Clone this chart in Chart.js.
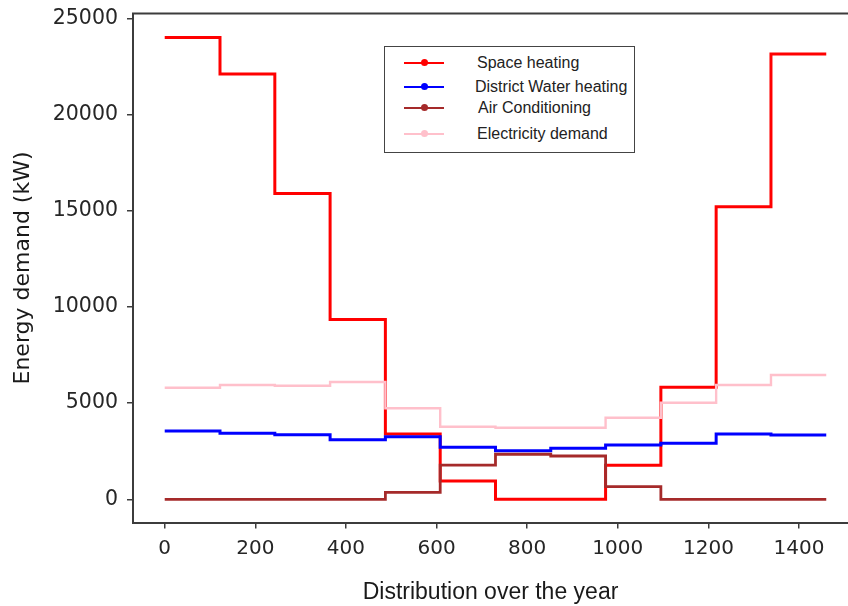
<!DOCTYPE html>
<html>
<head>
<meta charset="utf-8">
<script src="https://cdn.jsdelivr.net/npm/chart.js@4/dist/chart.umd.min.js"></script>
<style>
  body { margin: 0; background: #fff; }
  #wrap { position: relative; width: 848px; height: 606px; }
  #legend {
    position: absolute; left: 384px; top: 46px; width: 249px; height: 105px;
    border: 1.5px solid #444; background: #fff;
    font-family: 'Liberation Sans', Arial, sans-serif; font-size: 16px; color: #222;
  }
  .item { position: absolute; left: 0; height: 20px; }
  .swatch { position: absolute; left: 19px; top: 9px; width: 40px; height: 2px; }
  .dot { position: absolute; left: 16.5px; top: -3px; width: 7px; height: 7px; border-radius: 50%; }
  .label { position: absolute; top: 0; white-space: nowrap; line-height: 20px; }
</style>
</head>
<body>
<div id="wrap">
  <canvas id="demandChart" width="848" height="606"></canvas>
  <div id="legend"></div>
</div>
<script>
// Monthly step boundaries (hours) and demand per month (kW)
const stepHours = [0, 122, 243, 365, 487, 608, 730, 852, 973, 1095, 1217, 1338, 1460];
const spaceHeating = [24000, 22100, 15900, 9350, 3400, 950, 0, 0, 1770, 5820, 15200, 23150];
const districtWater = [3550, 3430, 3350, 3100, 3250, 2700, 2520, 2650, 2820, 2910, 3390, 3340];
const airConditioning = [0, 0, 0, 0, 360, 1780, 2340, 2250, 655, 0, 0, 0];
const electricity = [5800, 5940, 5900, 6100, 4730, 3770, 3720, 3720, 4240, 5020, 5940, 6460];

const seriesNames = ['Space heating', 'District Water heating', 'Air Conditioning', 'Electricity demand'];
const seriesColors = ['#ff0000', '#0000ff', '#a52a2a', '#ffc0cb'];
const seriesWidths = [3, 3, 2.8, 2.4];
const labelOffsets = [92, 90, 93, 92];

const xTicks = [0, 200, 400, 600, 800, 1000, 1200, 1400];
const yTicks = [0, 5000, 10000, 15000, 20000, 25000];

// last month holds until the end of the year
function toSteps(values) {
  return stepHours.map((h, i) => ({ x: h, y: values[Math.min(i, values.length - 1)] }));
}

const allSeries = [spaceHeating, districtWater, airConditioning, electricity];

const datasets = allSeries.map((vals, i) => ({
  label: seriesNames[i],
  data: toSteps(vals),
  borderColor: seriesColors[i],
  backgroundColor: seriesColors[i],
  borderWidth: seriesWidths[i],
  pointRadius: 0,
  stepped: true,
  fill: false,
  order: allSeries.length - i,
}));

// top frame line
const topFrame = {
  id: 'topFrame',
  afterDraw(chart) {
    const { ctx, chartArea } = chart;
    ctx.save();
    ctx.strokeStyle = '#3c3c3c';
    ctx.lineWidth = 2;
    ctx.beginPath();
    ctx.moveTo(chartArea.left - 1, chartArea.top);
    ctx.lineTo(chartArea.right, chartArea.top);
    ctx.stroke();
    ctx.restore();
  }
};

const axisGrid = { display: true, drawOnChartArea: false, drawTicks: true, tickLength: 6, color: '#3c3c3c', lineWidth: 1.5 };

new Chart(document.getElementById('demandChart'), {
  type: 'line',
  data: { datasets },
  plugins: [topFrame],
  options: {
    responsive: false,
    animation: false,
    devicePixelRatio: 1,
    layout: { padding: { top: 13.5, right: 0, left: 0, bottom: 0 } },
    plugins: { legend: { display: false }, tooltip: { enabled: false } },
    scales: {
      x: {
        type: 'linear',
        min: -70,
        max: 1508,
        afterBuildTicks: (s) => { s.ticks = xTicks.map(v => ({ value: v })); },
        afterFit: (s) => { s.height = 83.5; s.paddingRight = 0; },
        grid: axisGrid,
        border: { display: true, color: '#3c3c3c', width: 2 },
        ticks: { color: '#262626', font: { family: 'DejaVu Sans', size: 20 }, padding: 8, maxRotation: 0, callback: (v) => String(v) },
        title: {
          display: true,
          text: 'Distribution over the year',
          color: '#1a1a1a',
          font: { family: 'Liberation Sans', size: 23 },
          padding: { top: 0, bottom: 0 }
        }
      },
      y: {
        type: 'linear',
        min: -1206,
        max: 25249,
        afterBuildTicks: (s) => { s.ticks = yTicks.map(v => ({ value: v })); },
        afterFit: (s) => { s.width = 133; s.paddingTop = 0; s.paddingBottom = 0; },
        grid: axisGrid,
        border: { display: true, color: '#3c3c3c', width: 2 },
        ticks: { color: '#262626', font: { family: 'DejaVu Sans', size: 20.5 }, padding: 9, callback: (v) => String(v) },
        title: {
          display: true,
          text: 'Energy demand (kW)',
          color: '#1a1a1a',
          font: { family: 'DejaVu Sans', size: 22 },
          padding: { top: 10, bottom: 0 }
        }
      }
    }
  }
});

// legend box: line with a dot, then the series name
const legend = document.getElementById('legend');
const rowTops = [6, 30, 51, 77];
seriesNames.forEach((name, i) => {
  const item = document.createElement('div');
  item.className = 'item';
  item.style.top = rowTops[i] + 'px';
  item.innerHTML =
    `<div class="swatch" style="background:${seriesColors[i]}"><div class="dot" style="background:${seriesColors[i]}"></div></div>` +
    `<span class="label" style="left:${labelOffsets[i]}px">${name}</span>`;
  legend.appendChild(item);
});
</script>
</body>
</html>
